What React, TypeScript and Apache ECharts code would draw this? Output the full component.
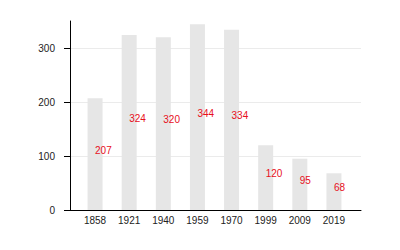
import React, { useEffect, useRef } from "react";
import * as echarts from "echarts";

const years = ["1858", "1921", "1940", "1959", "1970", "1999", "2009", "2019"];
const values = [207, 324, 320, 344, 334, 120, 95, 68];
const yMax = 350;
const yTickMax = 300;
const yTickStep = 100;

export default function App() {
  const ref = useRef<HTMLDivElement>(null);
  useEffect(() => {
    if (!ref.current) return;
    const chart = echarts.init(ref.current, null, { renderer: "svg" });
    const font = "Liberation Sans, Arial, sans-serif";
    chart.setOption({
      animation: false,
      textStyle: { fontFamily: font },
      grid: [
        { left: 78, right: 49, top: 21, bottom: 40 },
        { left: 70, right: 39, top: 21, bottom: 40 },
        { left: 70, right: 39, top: 48.4, bottom: 40 },
      ],
      xAxis: [
        {
          type: "category",
          gridIndex: 0,
          data: years,
          axisLine: { show: false },
          axisTick: { show: false },
          axisLabel: { color: "#222", fontSize: 10, margin: 5, fontFamily: font },
        },
        {
          type: "value",
          gridIndex: 1,
          min: 0,
          max: 1,
          axisLine: { show: true, lineStyle: { color: "#000", width: 1 } },
          axisTick: { show: false },
          axisLabel: { show: false },
          splitLine: { show: false },
        },
        {
          type: "value",
          gridIndex: 2,
          min: 0,
          max: 1,
          show: false,
        },
      ],
      yAxis: [
        { type: "value", gridIndex: 0, min: 0, max: yMax, show: false },
        {
          type: "value",
          gridIndex: 1,
          min: 0,
          max: yMax,
          axisLine: { show: true, lineStyle: { color: "#000", width: 1 } },
          axisTick: { show: false },
          axisLabel: { show: false },
          splitLine: { show: false },
        },
        {
          type: "value",
          gridIndex: 2,
          min: 0,
          max: yTickMax,
          interval: yTickStep,
          axisLine: { show: false },
          axisTick: { show: true, length: 6, lineStyle: { color: "#000" } },
          axisLabel: { color: "#222", fontSize: 10, margin: 15, fontFamily: font },
          splitLine: { show: true, lineStyle: { color: "#ebebeb", width: 1 } },
        },
      ],
      series: [
        {
          type: "bar",
          xAxisIndex: 0,
          yAxisIndex: 0,
          data: values,
          barWidth: 15,
          z: 3,
          itemStyle: { color: "#e6e6e6" },
          label: {
            show: true,
            position: "inside",
            align: "left",
            verticalAlign: "middle",
            offset: [0, -4],
            color: "#e8101c",
            fontSize: 10,
            fontFamily: font,
          },
        },
      ],
    });
    return () => chart.dispose();
  }, []);
  return <div ref={ref} style={{ width: 400, height: 250, position: "absolute", left: 0, top: 0 }} />;
}
